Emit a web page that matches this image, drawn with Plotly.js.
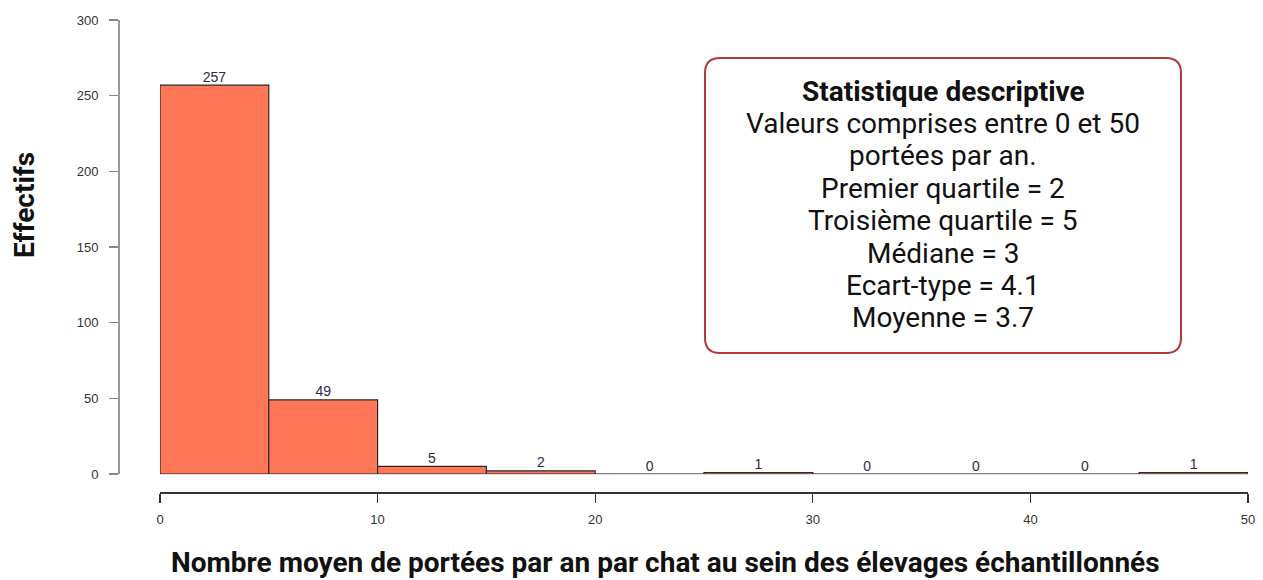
<!DOCTYPE html>
<html>
<head>
<meta charset="utf-8">
<script src="https://cdn.plot.ly/plotly-3.0.1.min.js"></script>
<style>html,body{margin:0;padding:0;background:#fff;}#chart{width:1263px;height:580px;}</style>
</head>
<body>
<div id="chart"></div>
<script>
// Histogram bins (lower edges) and counts
const binStarts = [0, 5, 10, 15, 20, 25, 30, 35, 40, 45];
const binWidth = 5;
const counts = [257, 49, 5, 2, 0, 1, 0, 0, 0, 1];
const xTickVals = [0, 10, 20, 30, 40, 50];
const yTickVals = [0, 50, 100, 150, 200, 250, 300];
const xTitle = 'Nombre moyen de portées par an par chat au sein des élevages échantillonnés';
const yTitle = 'Effectifs';
const statsTitle = "Statistique descriptive";
const statsLines = [
  "Valeurs comprises entre 0 et 50",
  "portées par an.",
  "Premier quartile = 2",
  "Troisième quartile = 5",
  "Médiane = 3",
  "Ecart-type = 4.1",
  "Moyenne = 3.7"
];

const centers = binStarts.map(s => s + binWidth / 2);

const bars = {
  type: 'bar',
  x: centers,
  y: counts,
  width: binWidth,
  marker: { color: '#FF7757', line: { color: '#2a2a2a', width: 1.2 } },
  hoverinfo: 'x+y',
  showlegend: false
};

const labels = {
  type: 'scatter',
  mode: 'text',
  x: centers,
  y: counts,
  text: counts.map(String),
  textposition: 'top center',
  textfont: { family: 'Liberation Sans, Arial, sans-serif', size: 14, color: '#2b2b45' },
  cliponaxis: false,
  hoverinfo: 'skip',
  showlegend: false
};

const W = 1263, H = 580;
const mL = 118, mR = 15, mT = 20, mB = 88;
const pw = W - mL - mR, ph = H - mT - mB;

// pixel -> paper helpers for layout placement
const px2paperX = p => (p - mL) / pw;
const py2paperY = p => (H - mB - p) / ph;

const boxL = px2paperX(705), boxR = px2paperX(1181), boxT = py2paperY(58), boxB = py2paperY(353);
const rx = 15 / pw, ry = 15 / ph;
const boxPath = `M ${boxL+rx},${boxT} L ${boxR-rx},${boxT} Q ${boxR},${boxT} ${boxR},${boxT-ry} ` +
  `L ${boxR},${boxB+ry} Q ${boxR},${boxB} ${boxR-rx},${boxB} L ${boxL+rx},${boxB} ` +
  `Q ${boxL},${boxB} ${boxL},${boxB+ry} L ${boxL},${boxT-ry} Q ${boxL},${boxT} ${boxL+rx},${boxT} Z`;

const allLines = ['<b>' + statsTitle + '</b>'].concat(statsLines);
const annCenterX = px2paperX(943);
const firstLineY = 91, lineStep = 32.4;
const annotations = allLines.map((t, i) => ({
  xref: 'paper', yref: 'paper', x: annCenterX, y: py2paperY(firstLineY + i * lineStep),
  text: t, showarrow: false, xanchor: 'center', yanchor: 'middle',
  font: { family: 'Roboto, sans-serif', size: 28, color: '#111' }
}));

// axis titles (placed as in the reference, off-centre)
annotations.push({
  xref: 'paper', yref: 'paper', x: px2paperX(665), y: py2paperY(562),
  text: '<b>' + xTitle + '</b>', showarrow: false, xanchor: 'center', yanchor: 'middle',
  font: { family: 'Roboto, sans-serif', size: 28, color: '#111' }
});
annotations.push({
  xref: 'paper', yref: 'paper', x: px2paperX(25), y: py2paperY(205),
  text: '<b>' + yTitle + '</b>', showarrow: false, textangle: -90, xanchor: 'center', yanchor: 'middle',
  font: { family: 'Roboto, sans-serif', size: 28, color: '#111' }
});

const layout = {
  width: W, height: H,
  margin: { l: mL, r: mR, t: mT, b: mB, pad: 0 },
  paper_bgcolor: '#fff', plot_bgcolor: '#fff',
  bargap: 0,
  font: { family: 'Liberation Sans, Arial, sans-serif', color: '#333' },
  xaxis: {
    domain: [(160 - mL) / pw, 1],
    range: [0, 50],
    anchor: 'free', position: 0,
    tickvals: xTickVals,
    ticks: 'outside', ticklen: 9, tickwidth: 1.2, tickcolor: '#333',
    showline: true, linecolor: '#333', linewidth: 1.5,
    showgrid: false, zeroline: false,
    tickfont: { size: 13, color: '#333' },
    ticklabelstandoff: 6
  },
  yaxis: {
    domain: [(492 - 474) / ph, 1],
    range: [0, 300],
    anchor: 'free', position: 0,
    tickvals: yTickVals,
    ticks: 'outside', ticklen: 9, tickwidth: 1.2, tickcolor: '#888',
    showline: true, linecolor: '#999', linewidth: 1.5,
    showgrid: false,
    zeroline: true, zerolinecolor: '#dddddd', zerolinewidth: 1.2,
    tickfont: { size: 13, color: '#333' },
    ticklabelstandoff: 8
  },
  shapes: [{
    type: 'path', xref: 'paper', yref: 'paper', path: boxPath,
    line: { color: '#B0393B', width: 2 }, fillcolor: 'rgba(255,255,255,0)'
  }],
  annotations: annotations
};

Plotly.newPlot('chart', [bars, labels], layout, { displayModeBar: false, staticPlot: true });
</script>
</body>
</html>
